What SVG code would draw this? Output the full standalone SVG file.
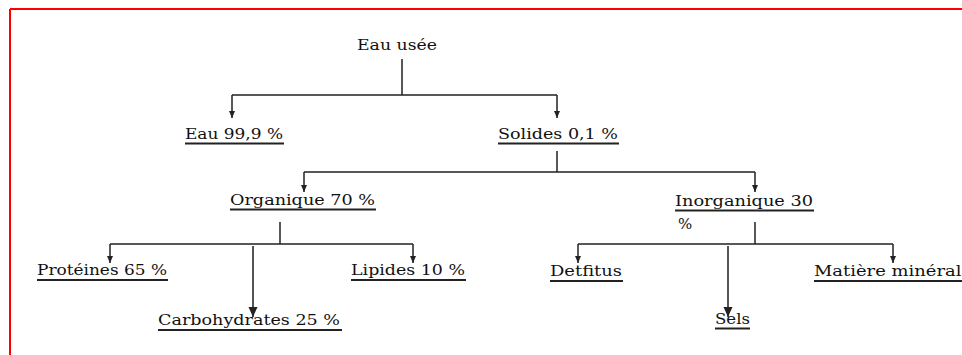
<svg xmlns="http://www.w3.org/2000/svg" width="962" height="355" viewBox="0 0 962 355">
<style>
.t{font-family:"DejaVu Serif","Liberation Serif",serif;font-size:15px;fill:#111}
.u{stroke:#222;stroke-width:1.8}
.c{stroke:#222;stroke-width:1.5;fill:none}
.g{stroke:#555;stroke-width:2;fill:none}
</style>
<defs>
<marker id="a" markerUnits="userSpaceOnUse" markerWidth="7" markerHeight="7" refX="7" refY="3" orient="auto"><path d="M0,0 L7,3 L0,6 z" fill="#222"/></marker>
<marker id="b" markerUnits="userSpaceOnUse" markerWidth="11" markerHeight="10" refX="10" refY="4.5" orient="auto"><path d="M0,0 L10,4.5 L0,9 z" fill="#222"/></marker>
</defs>
<rect width="962" height="355" fill="#fff"/>
<path d="M10,9 H962 M10,9 V355" stroke="#f00" stroke-width="2" fill="none"/>
<g id="connectors">
<path class="c" d="M402,59 V95 M232,95 H557"/>
<path class="c" d="M232,95 V118" marker-end="url(#a)"/>
<path class="c" d="M557,95 V118" marker-end="url(#a)"/>
<path class="c" d="M557,151 V172 M304,172 H755"/>
<path class="c" d="M304,172 V192" marker-end="url(#a)"/>
<path class="c" d="M755,172 V192" marker-end="url(#a)"/>
<path class="c" d="M280,222 V244 M110,244 H413"/>
<path class="c" d="M110,244 V263" marker-end="url(#a)"/>
<path class="c" d="M413,244 V263" marker-end="url(#a)"/>
<path class="g" d="M253,246 V317" marker-end="url(#b)"/>
<path class="c" d="M755,222 V244 M578,244 H893"/>
<path class="c" d="M578,244 V263" marker-end="url(#a)"/>
<path class="c" d="M893,244 V263" marker-end="url(#a)"/>
<path class="g" d="M728,246 V317" marker-end="url(#b)"/>
</g>
<g id="n-eau-usee"><text class="t" x="357" y="50" textLength="80" lengthAdjust="spacingAndGlyphs">Eau usée</text></g>
<g id="n-eau"><text class="t" x="185" y="139" textLength="98" lengthAdjust="spacingAndGlyphs">Eau 99,9 %</text><line class="u" x1="185" y1="143.5" x2="284" y2="143.5"/></g>
<g id="n-solides"><text class="t" x="498" y="139" textLength="120" lengthAdjust="spacingAndGlyphs">Solides 0,1 %</text><line class="u" x1="498" y1="143.5" x2="619" y2="143.5"/></g>
<g id="n-organique"><text class="t" x="230" y="205" textLength="145" lengthAdjust="spacingAndGlyphs">Organique 70 %</text><line class="u" x1="230" y1="209.5" x2="376" y2="209.5"/></g>
<g id="n-inorganique"><text class="t" x="675" y="206" textLength="138" lengthAdjust="spacingAndGlyphs">Inorganique 30</text><line class="u" x1="675" y1="210.5" x2="814" y2="210.5"/><text class="t" x="678" y="229">%</text></g>
<g id="n-proteines"><text class="t" x="37" y="275" textLength="130" lengthAdjust="spacingAndGlyphs">Protéines 65 %</text><line class="u" x1="37" y1="280" x2="168" y2="280"/></g>
<g id="n-lipides"><text class="t" x="351" y="275" textLength="114" lengthAdjust="spacingAndGlyphs">Lipides 10 %</text><line class="u" x1="351" y1="280" x2="466" y2="280"/></g>
<g id="n-carbo"><text class="t" x="158" y="325" textLength="182" lengthAdjust="spacingAndGlyphs">Carbohydrates 25 %</text><line class="u" x1="158" y1="330" x2="342" y2="330"/></g>
<g id="n-detfitus"><text class="t" x="550" y="276" textLength="72" lengthAdjust="spacingAndGlyphs">Detfitus</text><line class="u" x1="550" y1="281" x2="623" y2="281"/></g>
<g id="n-sels"><text class="t" x="715" y="324" textLength="35" lengthAdjust="spacingAndGlyphs">Sels</text><line class="u" x1="715" y1="328.5" x2="750" y2="328.5"/></g>
<g id="n-matiere"><text class="t" x="814" y="276" textLength="158" lengthAdjust="spacingAndGlyphs">Matière minérale</text><line class="u" x1="814" y1="281" x2="962" y2="281"/></g>
</svg>
